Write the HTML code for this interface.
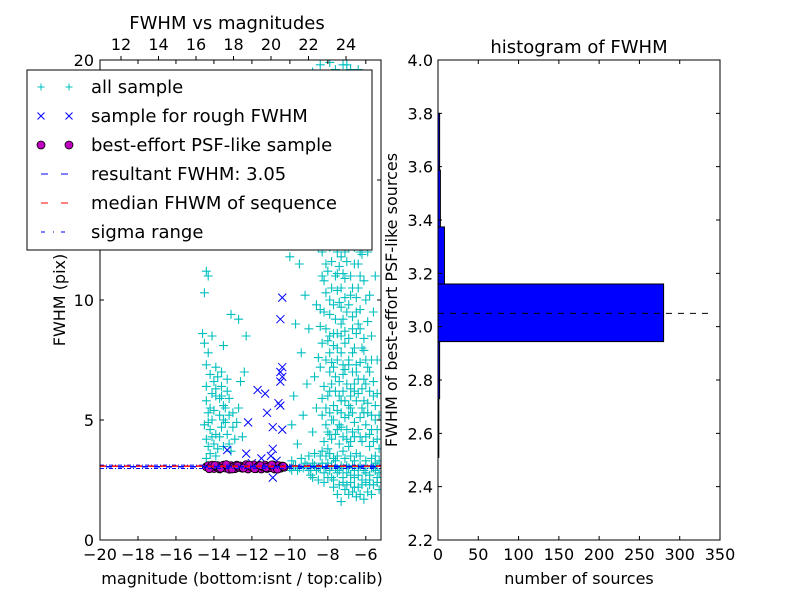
<!DOCTYPE html>
<html><head><meta charset="utf-8"><style>
body{margin:0;background:#fff}
svg{display:block;font-family:"DejaVu Sans","Liberation Sans",sans-serif}
</style></head><body>
<svg id="fig" width="800" height="600" viewBox="0 0 800 600">
<rect width="800" height="600" fill="#fff"/>
<g id="left"></g>
<g id="right"></g>
</svg>
<script>
// ---- data: left scatter ----
const allSample = [
[-14.5,10.3],[-14.4,11.2],[-14.3,11],[-14.6,8.6],[-14.5,8.2],[-14.1,8.5],[-14.3,7.8],[-13.9,7.2],[-14.4,7.3],[-14.2,6.9],[-14.0,6.6],[-13.8,6.8],[-13.6,6.4],[-13.3,6.2],[-13.2,5.9],[-13.5,5.6],[-14.3,5.3],[-14.1,5.0],[-13.7,5.2],[-13.4,5.5],[-13.0,5.3],[-12.8,4.9],[-13.6,4.7],[-14.2,4.6],[-14.4,4.2],[-14.0,4.0],[-13.8,3.8],[-13.3,4.4],[-12.9,4.2],[-14.2,3.6],[-13.9,3.5],[-12.6,6.6],[-12.3,8.5],[-12.4,7.0],[-13.1,9.4],[-12.7,9.2],[-13.5,8.1],[-14.4,3.4],[-13.1,3.7],[-12.5,4.3],[-14.1,6.1],[-13.7,5.9],[-13.4,4.9],[-14.3,4.9],[-13.9,4.4],
[-14.4,5.8],[-14.2,5.5],[-14.0,5.4],[-13.9,6.0],[-13.6,6.0],[-13.5,5.0],[-13.2,5.2],[-13.0,4.7],[-13.7,4.3],[-14.1,4.3],[-14.3,3.9],[-13.5,3.9],[-13.2,4.0],[-12.7,5.5],[-13.9,6.3],[-14.4,6.4],[-14.5,4.8],[-13.6,7.0],[-13.3,6.7],
[-9.8,3.1],[-9.5,3.0],[-9.2,3.2],[-9.0,2.9],[-8.7,3.1],[-8.5,3.0],[-8.2,2.8],[-8.0,3.2],[-7.8,2.6],[-7.6,3.3],[-7.4,2.9],[-7.2,2.4],[-7.0,3.1],[-6.8,2.7],[-6.6,2.2],[-6.4,3.0],[-6.2,2.5],[-6.0,2.8],[-5.8,2.3],[-5.6,3.0],[-5.4,2.6],[-5.3,2.1],[-9.9,3.3],[-9.4,3.4],[-8.9,2.7],[-8.4,3.5],[-7.9,3.6],[-7.1,2.1],[-6.5,1.8],[-5.9,2.0],[-6.9,1.9],[-7.7,2.2],
[-9.6,4.0],[-9.3,5.2],[-9.1,6.5],[-9.4,7.8],[-9.0,8.8],[-9.2,10.2],[-9.5,11.5],[-8.9,12.4],[-9.3,13.5],[-8.8,4.5],[-8.6,5.5],[-8.7,6.8],[-8.5,7.6],[-8.4,8.9],[-8.6,9.8],[-8.3,11],[-8.5,12.2],[-8.2,13.3],[-8.4,14.5],[-8.6,15.8],[-8.1,16.9],[-8.3,18.2],
[-8.0,3.8],[-7.9,4.4],[-7.8,5.0],[-7.7,5.6],[-7.9,6.2],[-7.6,6.8],[-7.8,7.4],[-7.5,8.0],[-7.7,8.6],[-7.6,9.2],[-7.4,9.9],[-7.8,10.5],[-7.5,11.1],[-7.3,11.8],[-7.6,12.4],[-7.4,13.0],[-7.7,13.7],[-7.3,14.3],[-7.5,15.0],[-7.2,15.7],[-7.6,16.4],[-7.3,17.1],[-7.5,17.8],[-7.1,18.5],[-7.4,19.2],[-7.0,19.8],[-7.6,19.6],
[-7.2,3.7],[-7.0,4.2],[-7.3,4.7],[-6.9,5.2],[-7.1,5.8],[-6.8,6.3],[-7.2,6.9],[-6.9,7.5],[-7.1,8.2],[-6.7,8.8],[-7.0,9.5],[-6.8,10.2],[-7.1,10.9],[-6.6,11.5],[-6.9,12.2],[-6.7,12.9],[-7.0,13.6],[-6.5,14.2],[-6.8,15.0],[-6.6,16.0],[-6.9,17.0],[-6.5,18.0],[-6.7,19.0],
[-6.5,3.6],[-6.3,4.3],[-6.6,4.9],[-6.2,5.5],[-6.4,6.1],[-6.1,6.7],[-6.5,7.3],[-6.2,8.0],[-6.4,9.0],[-6.0,10.0],[-6.3,11.0],[-5.9,12.0],[-6.2,13.0],[-5.8,3.9],[-5.7,4.6],[-5.9,5.3],[-5.6,6.0],[-5.8,7.0],[-5.5,3.5],[-5.4,4.2],[-5.5,5.0],[-5.3,3.8],
[-8.1,4.8],[-8.3,5.9],[-7.9,7.0],[-8.0,8.3],[-8.2,9.5],[-7.9,10.0],[-8.1,11.5],[-8.0,12.8],[-7.8,14.0],[-7.9,15.3],[-7.8,16.5],[-8.0,17.5],[-7.7,18.8],[-7.9,19.9],[-7.4,4.0],[-7.5,4.6],[-7.3,5.3],[-7.4,6.0],[-7.2,7.3],[-7.3,8.5],[-7.2,9.2],[-7.3,10.5],[-7.1,12.0],[-7.2,13.2],[-7.1,14.8],[-7.0,16.2],[-7.2,17.5],
[-6.9,3.9],[-6.7,4.5],[-6.8,5.5],[-6.6,6.5],[-6.7,7.0],[-6.6,8.0],[-6.5,9.5],[-6.4,10.5],[-6.6,13.5],[-6.3,12.0],[-6.0,4.8],[-6.1,5.8],[-6.0,7.5],[-5.7,8.5],[-5.6,9.5],[-9.7,9.0],[-10.0,11.8],[-9.8,6.0],[-9.9,4.8],[-10.1,15.0],[-9.6,16.5],[-9.0,17.2],[-8.8,19.5],[-9.4,18.0],[-8.4,19.8],[-6.4,19.6],[-6.1,15.5],[-5.5,11.0],[-5.4,7.5],
// dense band near FWHM 3
[-10.0,3.0],[-9.9,2.9],[-9.7,3.1],[-9.6,2.9],[-9.3,3.0],[-9.1,3.1],[-8.9,3.0],[-8.8,3.2],[-8.6,2.9],[-8.4,3.0],[-8.3,3.2],[-8.1,3.0],[-7.9,2.9],[-7.8,3.1],[-7.6,3.0],[-7.5,2.8],[-7.3,3.1],[-7.2,3.0],[-7.0,2.8],[-6.9,3.0],[-6.7,3.1],[-6.6,2.9],[-6.4,2.7],[-6.3,3.1],[-6.1,2.9],[-6.0,3.1],[-5.8,2.7],[-5.7,3.0],[-5.5,2.9],[-5.4,3.1],[-5.3,2.8],
[-8.8,2.6],[-8.5,2.5],[-8.2,2.4],[-8.0,2.6],[-7.7,2.5],[-7.4,2.3],[-7.2,2.6],[-7.0,2.3],[-6.8,2.4],[-6.6,2.6],[-6.4,2.2],[-6.2,2.3],[-6.0,2.4],[-5.8,2.5],[-5.6,2.3],[-5.4,2.4],[-6.7,2.0],[-6.3,1.9],[-5.7,1.9],[-7.5,1.9],[-7.3,1.6],[-6.1,1.7],
[-9.0,3.5],[-8.7,3.6],[-8.3,3.7],[-8.1,3.5],[-7.7,3.4],[-7.5,3.5],[-7.1,3.4],[-6.8,3.5],[-6.6,3.3],[-6.3,3.5],[-6.0,3.3],[-5.7,3.4],[-5.5,3.2],[-5.3,3.3],
// dense core
[-8.2,4.1],[-8.0,4.5],[-7.8,4.2],[-7.6,4.4],[-7.4,4.8],[-7.2,4.3],[-7.0,4.6],[-6.8,4.1],[-6.6,4.3],[-6.4,4.6],[-6.2,4.1],[-6.0,4.3],[-5.8,4.4],[-5.6,4.1],[-5.4,4.6],
[-8.3,5.2],[-8.1,5.5],[-7.9,5.3],[-7.7,5.0],[-7.5,5.4],[-7.3,5.8],[-7.1,5.1],[-6.9,5.6],[-6.7,5.3],[-6.5,5.8],[-6.3,5.1],[-6.1,5.3],[-5.9,5.7],[-5.7,5.2],[-5.5,5.6],[-5.3,5.2],
[-8.2,6.4],[-8.0,6.0],[-7.8,6.5],[-7.6,6.2],[-7.4,6.6],[-7.2,6.2],[-7.0,6.5],[-6.8,6.0],[-6.6,6.2],[-6.4,6.7],[-6.2,6.3],[-6.0,6.5],[-5.8,6.2],[-5.6,6.6],[-5.4,6.1],
[-8.4,7.2],[-8.1,7.5],[-7.9,7.8],[-7.7,7.2],[-7.5,7.5],[-7.3,7.8],[-7.1,7.1],[-6.9,7.3],[-6.7,7.8],[-6.5,7.0],[-6.3,7.4],[-6.1,7.9],[-5.9,7.2],[-5.7,7.5],
[-8.3,8.2],[-8.1,8.8],[-7.9,8.5],[-7.7,8.1],[-7.5,8.6],[-7.3,9.0],[-7.1,8.7],[-6.9,8.4],[-6.7,9.3],[-6.5,8.6],[-6.3,8.8],[-6.1,8.4],[-5.9,9.1],
[-8.4,9.6],[-8.1,10.3],[-7.9,9.4],[-7.7,9.8],[-7.5,10.4],[-7.3,9.7],[-7.1,10.1],[-6.9,9.8],[-6.7,10.5],[-6.5,10.1],[-6.3,9.6],[-6.1,10.8],[-5.8,10.2],
[-8.2,10.8],[-8.0,11.2],[-7.8,11.6],[-7.6,11.0],[-7.4,11.4],[-7.2,11.1],[-7.0,11.6],[-6.8,11.0],[-6.6,12.2],[-6.4,11.5],[-6.2,11.9],
[-8.3,12.0],[-8.1,12.5],[-7.9,12.2],[-7.7,12.6],[-7.5,12.0],[-7.3,12.6],[-7.1,13.0],[-6.9,12.8],[-6.7,13.4],[-6.5,12.6],[-6.3,13.2],
[-8.0,13.6],[-7.8,13.2],[-7.6,13.9],[-7.4,14.0],[-7.2,14.4],[-7.0,14.2],[-6.8,14.6],[-6.6,14.8],[-8.2,14.2],[-7.9,14.8],[-7.6,15.3],[-7.4,15.6],[-7.1,15.2],[-6.9,15.8],[-6.7,16.4],
[-7.8,16.0],[-7.5,16.6],[-7.3,16.2],[-7.1,16.8],[-6.8,17.4],[-7.7,17.2],[-7.4,17.5],[-7.2,18.0],[-6.9,18.3],[-7.6,18.4],[-7.3,18.8],[-7.1,19.4],[-6.8,19.6],[-7.5,19.0],[-7.2,19.8],[-8.2,19.1],[-6.6,17.6]
];
const roughSample = [
[-10.4,10.1],[-10.5,9.2],[-10.5,7.0],[-10.4,6.8],[-10.5,6.6],[-10.4,7.2],[-12.2,4.9],[-11.7,6.25],[-11.3,6.1],[-11.2,5.3],[-10.9,4.7],[-10.4,4.6],[-10.5,5.6],[-10.6,5.7],[-13.3,3.75],[-12.3,3.6],[-10.9,3.8],[-10.9,2.6],[-11.5,3.4],[-10.7,3.3],[-12.0,3.2],[-13.0,3.0],[-11.0,3.5],[-10.6,3.0]
];
const psfMags = [-14.4,-14.3,-14.2,-14.1,-14.0,-13.9,-13.8,-13.7,-13.6,-13.5,-13.4,-13.3,-13.2,-13.1,-13.0,-12.9,-12.8,-12.7,-12.6,-12.5,-12.4,-12.3,-12.2,-12.1,-12.0,-11.9,-11.8,-11.7,-11.6,-11.5,-11.4,-11.3,-11.2,-11.1,-11.0,-10.9,-10.8,-10.7,-10.6,-10.5,-10.4,-10.3,-14.25,-13.95,-13.65,-13.35,-13.05,-12.75,-12.45,-12.15,-11.85,-11.55,-11.25,-10.95,-10.65,-10.35];
const psfFwhm  = [3.05,3.1,3.0,3.12,2.98,3.06,3.1,2.96,3.04,3.12,3.0,3.08,2.95,3.1,3.05,2.97,3.12,3.02,3.08,2.99,3.06,3.14,2.96,3.09,3.03,3.13,2.97,3.05,3.11,2.96,3.04,3.12,2.98,3.07,3.01,3.13,2.96,3.06,3.1,2.99,3.08,3.03,2.97,3.11,2.99,3.14,2.96,3.08,3.0,3.12,2.97,3.1,3.02,3.13,2.95,3.07];
const resultantFwhm = 3.05;
const medianFwhm = 3.08;
const sigmaRange = [2.98,3.12];
const leftXTicks = [-20,-18,-16,-14,-12,-10,-8,-6];
const leftYTicks = [0,5,10,15,20];
const topTicks = [12,14,16,18,20,22,24];
// ---- data: histogram ----
const binEdges = [2.51,2.73,2.944,3.16,3.374,3.587,3.80];
const binCounts = [1,2,280,8,3,2];
const histYTicks = [2.2,2.4,2.6,2.8,3.0,3.2,3.4,3.6,3.8,4.0];
const histXTicks = [0,50,100,150,200,250,300,350];

const NS="http://www.w3.org/2000/svg";
function mk(tag,attrs,parent){const e=document.createElementNS(NS,tag);for(const k in attrs)e.setAttribute(k,attrs[k]);parent.appendChild(e);return e;}
function txt(s,x,y,attrs,parent){const t=mk('text',Object.assign({x:x,y:y,'font-size':16,fill:'#000'},attrs),parent);t.textContent=s;return t;}

// left axes
const L=document.getElementById('left');
const lx0=100,lx1=381,ly0=60,ly1=540;
const xmin=-20,xmax=-5.2,ymin=0,ymax=20;
const sx=m=>lx0+(m-xmin)/(xmax-xmin)*(lx1-lx0);
const sy=v=>ly1-(v-ymin)/(ymax-ymin)*(ly1-ly0);
const tx=c=>121+(c-12)*(346-121)/12;
const clip=mk('clipPath',{id:'lc'},L);mk('rect',{x:lx0,y:ly0,width:lx1-lx0,height:ly1-ly0},clip);
const pts=mk('g',{'clip-path':'url(#lc)'},L);


const M=4.5;
allSample.forEach(p=>{const x=sx(p[0]),y=sy(p[1]);
 const g=mk('path',{d:`M${x-M},${y}H${x+M}M${x},${y-M}V${y+M}`,stroke:'#00bfbf','stroke-width':1.1,fill:'none'},pts);
 
 });
roughSample.forEach(p=>{const x=sx(p[0]),y=sy(p[1]);
 const g=mk('path',{d:`M${x-4},${y-4}L${x+4},${y+4}M${x-4},${y+4}L${x+4},${y-4}`,stroke:'#0000ff','stroke-width':1,fill:'none'},pts);
 
 });
psfMags.forEach((m,i)=>{const c=mk('circle',{cx:sx(m),cy:sy(psfFwhm[i]),r:4,fill:'#bf00bf',stroke:'#000','stroke-width':0.8},pts);
 
 });
let ln=mk('line',{x1:lx0,x2:lx1,y1:sy(sigmaRange[0]),y2:sy(sigmaRange[0]),stroke:'#0000ff','stroke-dasharray':'4 2 1 2','stroke-width':1},pts);

ln=mk('line',{x1:lx0,x2:lx1,y1:sy(sigmaRange[1]),y2:sy(sigmaRange[1]),stroke:'#0000ff','stroke-dasharray':'4 2 1 2','stroke-width':1},pts);

ln=mk('line',{x1:lx0,x2:lx1,y1:sy(medianFwhm),y2:sy(medianFwhm),stroke:'#ff0000','stroke-dasharray':'6 6','stroke-width':1.5},pts);

ln=mk('line',{x1:lx0,x2:lx1,y1:sy(resultantFwhm),y2:sy(resultantFwhm),stroke:'#0000ff','stroke-dasharray':'6 6','stroke-dashoffset':6,'stroke-width':1.5},pts);

mk('rect',{x:lx0,y:ly0,width:lx1-lx0,height:ly1-ly0,fill:'none',stroke:'#000','stroke-width':1},L);
leftXTicks.forEach(v=>{const x=sx(v);mk('path',{d:`M${x},${ly1}v-4M${x},${ly0}v4`,stroke:'#000'},L);
 const t=txt('\u2212'+Math.abs(v),x,ly1+20,{'text-anchor':'middle'},L);
 });
leftYTicks.forEach(v=>{const y=sy(v);mk('path',{d:`M${lx0},${y}h4M${lx1},${y}h-4`,stroke:'#000'},L);
 const t=txt(String(v),lx0-6,y+6,{'text-anchor':'end'},L);
 });
topTicks.forEach(v=>{const x=tx(v);mk('path',{d:`M${x},${ly0}v-4`,stroke:'#000'},L);
 const t=txt(String(v),x,ly0-10,{'text-anchor':'middle'},L);
 });
let t=txt('FWHM vs magnitudes',227,29,{'text-anchor':'middle','font-size':18},L);

t=txt('magnitude (bottom:isnt / top:calib)',242,584,{'text-anchor':'middle'},L);

t=txt('FWHM (pix)',65,300,{'text-anchor':'middle',transform:'rotate(-90 65 300)'},L);


// legend
const lg=mk('g',{},L);


mk('rect',{x:27,y:70,width:345,height:180,fill:'#fff',stroke:'#000','stroke-width':1},lg);
const labels=['all sample','sample for rough FWHM','best-effort PSF-like sample','resultant FWHM: 3.05','median FHWM of sequence','sigma range'];
labels.forEach((s,i)=>{const y=87+i*29;
 if(i==0){[41,69].forEach(x=>mk('path',{d:`M${x-3.5},${y}H${x+3.5}M${x},${y-3.5}V${y+3.5}`,stroke:'#00bfbf'},lg));}
 if(i==1){[41,69].forEach(x=>mk('path',{d:`M${x-3.5},${y-3.5}L${x+3.5},${y+3.5}M${x-3.5},${y+3.5}L${x+3.5},${y-3.5}`,stroke:'#0000ff'},lg));}
 if(i==2){[41,69].forEach(x=>mk('circle',{cx:x,cy:y,r:4,fill:'#bf00bf',stroke:'#000','stroke-width':0.8},lg));}
 if(i==3)mk('path',{d:`M41,${y}h7M61,${y}h7`,stroke:'#0000ff'},lg);
 if(i==4)mk('path',{d:`M41,${y}h7M61,${y}h7`,stroke:'#ff0000'},lg);
 if(i==5)mk('path',{d:`M41,${y}h4M53,${y}h1M61,${y}h4`,stroke:'#0000ff'},lg);
 const e=txt(s,91,y+6,{'font-size':18},lg);
 });

// histogram
const R=document.getElementById('right');
const hx0=438,hx1=720,hy0=60,hy1=540;
const hxs=c=>hx0+c/350*(hx1-hx0);
const hys=v=>hy1-(v-2.2)/(4.0-2.2)*(hy1-hy0);
binCounts.forEach((c,i)=>{const y0=hys(binEdges[i+1]),y1=hys(binEdges[i]);
 const r=mk('rect',{x:hx0,y:y0,width:Math.max(hxs(c)-hx0,0.5),height:y1-y0,fill:'#0000ff',stroke:'#000','stroke-width':1},R);
 });
ln=mk('line',{x1:hx0,x2:hxs(340),y1:hys(resultantFwhm),y2:hys(resultantFwhm),stroke:'#000','stroke-dasharray':'6 6','stroke-width':1},R);

mk('rect',{x:hx0,y:hy0,width:hx1-hx0,height:hy1-hy0,fill:'none',stroke:'#000'},R);
histXTicks.forEach(v=>{const x=hxs(v);mk('path',{d:`M${x},${hy1}v-4M${x},${hy0}v4`,stroke:'#000'},R);
 const e=txt(String(v),x,hy1+20,{'text-anchor':'middle'},R);
 });
histYTicks.forEach(v=>{const y=hys(v);mk('path',{d:`M${hx0},${y}h4M${hx1},${y}h-4`,stroke:'#000'},R);
 const e=txt(v.toFixed(1),hx0-5,y+6,{'text-anchor':'end'},R);
 });
t=txt('histogram of FWHM',579,53,{'text-anchor':'middle','font-size':18},R);

t=txt('number of sources',579,584,{'text-anchor':'middle'},R);

t=txt('FWHM of best-effort PSF-like sources',397,300,{'text-anchor':'middle',transform:'rotate(-90 397 300)'},R);

</script>
</body></html>
